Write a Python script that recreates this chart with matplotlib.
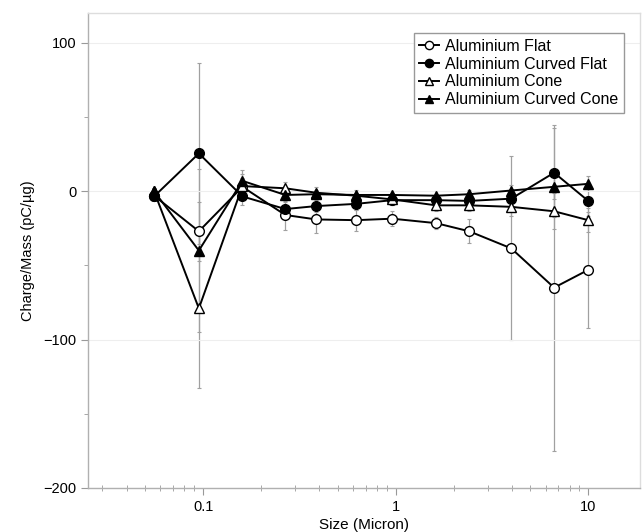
import matplotlib.pyplot as plt
import numpy as np
from matplotlib.ticker import MultipleLocator, FixedLocator, FixedFormatter

plt.rcParams['font.family'] = ['Liberation Sans', 'DejaVu Sans']

size = [0.0556, 0.095, 0.16, 0.267, 0.386, 0.623, 0.96, 1.62, 2.41, 3.98, 6.65, 10]

al_flat = [-3, -27, 3, -16, -19, -19.5, -18.5, -21.5, -27, -38.5, -65, -53]
al_flat_err = [2, 20, 6, 10, 9, 7, 5, 4, 8, 62, 110, 39]

al_curved_flat = [-3.5, 25.5, -3.5, -12, -10, -8.5, -6, -6, -6.5, -5, 12.5, -6.5]
al_curved_flat_err = [2, 61, 6, 5, 4, 4, 3, 3, 4, 6, 30, 10]

al_cone = [0, -79, 3.5, 2, -1, -3, -5.5, -9.5, -9.5, -10.5, -13.5, -19.5]
al_cone_err = [2, 54, 8, 4, 4, 4, 4, 4, 4, 6, 12, 8]

al_curved_cone = [0, -40, 7, -2.5, -2, -2.5, -2.5, -3, -2, 0.5, 3, 5]
al_curved_cone_err = [2, 55, 7, 4, 3, 3, 3, 3, 3, 4, 8, 5]

series = [
    ("Aluminium Flat", al_flat, al_flat_err, "o", "white"),
    ("Aluminium Curved Flat", al_curved_flat, al_curved_flat_err, "o", "black"),
    ("Aluminium Cone", al_cone, al_cone_err, "^", "white"),
    ("Aluminium Curved Cone", al_curved_cone, al_curved_cone_err, "^", "black"),
]

fig = plt.figure(figsize=(6.44, 5.32), dpi=100)
ax = fig.add_axes([0.137, 0.083, 0.857, 0.892])

# error bars first, light grey, behind the lines
for name, y, err, m, fc in series:
    ax.errorbar(size, y, yerr=err, fmt="none", ecolor="#a0a0a0",
                elinewidth=0.9, capsize=1.5, capthick=0.8, zorder=1)

for name, y, err, m, fc in series:
    ax.plot(size, y, color="black", lw=1.4, marker=m, markersize=7,
            markerfacecolor=fc, markeredgecolor="black", markeredgewidth=1.0,
            label=name, zorder=3)

ax.set_xscale("log")
ax.set_xlim(0.0253, 18.6)
ax.set_ylim(-200, 120)
ax.yaxis.set_major_locator(FixedLocator([-200, -100, 0, 100]))
ax.yaxis.set_major_formatter(FixedFormatter(["\u2212200", "\u2212100", "0", "100"]))
ax.yaxis.set_minor_locator(MultipleLocator(50))
ax.set_xticks([0.1, 1, 10])
ax.set_xticklabels(["0.1", "1", "10"])

ax.grid(axis="y", which="major", color="#eeeeee", lw=0.8, zorder=0)
for s in ax.spines.values():
    s.set_color("#b0b0b0")
    s.set_linewidth(1.0)
ax.spines["top"].set_color("#dddddd")
ax.spines["right"].set_color("#dddddd")
ax.tick_params(which="both", color="#999999", labelsize=10.5)
ax.tick_params(which="major", length=5)
ax.tick_params(which="minor", length=3)
ax.tick_params(axis="x", which="minor", direction="inout", length=4)

ax.set_xlabel("Size (Micron)", fontsize=11, labelpad=3)
ax.set_ylabel("Charge/Mass (pC/\u00b5g)", fontsize=10.5, labelpad=6)

leg = ax.legend(loc="upper right", bbox_to_anchor=(0.985, 0.975), fontsize=11.5,
                fancybox=False, framealpha=1, edgecolor="#999999",
                handlelength=1.2, handletextpad=0.4, labelspacing=0.18,
                borderpad=0.35, markerscale=0.85)
leg.get_frame().set_linewidth(1.0)

fig.savefig("out.png", dpi=100)
